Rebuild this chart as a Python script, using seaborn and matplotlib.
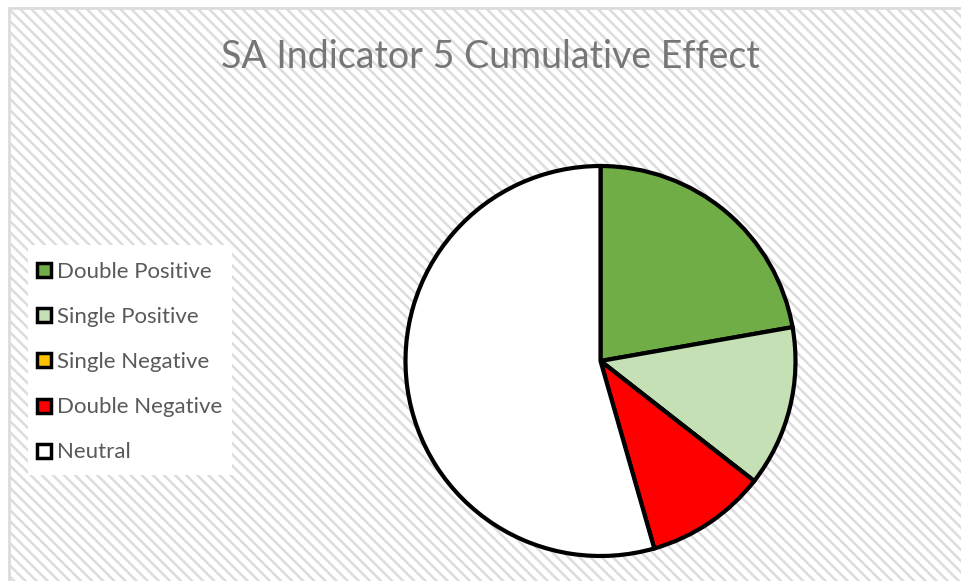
import matplotlib
matplotlib.use("Agg")
import matplotlib.pyplot as plt
import matplotlib.patches as mpatches
from matplotlib.lines import Line2D
import seaborn as sns

categories = ["Double Positive", "Single Positive", "Single Negative", "Double Negative", "Neutral"]
values = [20, 12, 0, 9, 49]
colors = ["#70AD47", "#C5E0B4", "#FFC000", "#FF0000", "#FFFFFF"]
title = "SA Indicator 5 Cumulative Effect"

sns.set_theme(style="white")
plt.rcParams['font.family'] = ['Lato', 'DejaVu Sans']
plt.rcParams['hatch.color'] = "#E9E9E9"
plt.rcParams['hatch.linewidth'] = 1.8

W, H = 962, 581
fig = plt.figure(figsize=(W / 100, H / 100), dpi=100)
fig.patch.set_facecolor("white")

# hatched background with light border
bg_ax = fig.add_axes([0, 0, 1, 1], zorder=-10)
bg_ax.set_xlim(0, W)
bg_ax.set_ylim(H, 0)
bg_ax.axis("off")
bg_ax.add_patch(mpatches.Rectangle((9, 8), W + 10, H + 10, facecolor="white",
                                   edgecolor="#DCDCDC", hatch="\\\\\\",
                                   linewidth=2))
# legend background box
bg_ax.add_patch(mpatches.Rectangle((28, 245), 204, 230, facecolor="white",
                                   edgecolor="none", linewidth=0, zorder=3))

cx, cy, r = 600.5, 361, 195
ax = fig.add_axes([(cx - r) / W, (H - cy - r) / H, 2 * r / W, 2 * r / H], zorder=1)
ax.set_facecolor("none")
ax.pie(values, colors=colors, startangle=90, counterclock=False,
       wedgeprops=dict(edgecolor="black", linewidth=3, joinstyle="miter"),
       radius=1.0)
ax.set_xlim(-1.0, 1.0)
ax.set_ylim(-1.0, 1.0)
ax.set_aspect("auto")
ax.axis("off")

fig.text(490 / W, 1 - 57 / H, title, ha="center", va="center",
         fontsize=27, color="#767676", fontweight="normal", zorder=5)

handles = [Line2D([0], [0], marker="s", linestyle="none", markersize=10.5,
                  markerfacecolor=c, markeredgecolor="black", markeredgewidth=2.5)
           for c in colors]
leg = fig.legend(handles, categories, loc="upper left",
                 bbox_to_anchor=(36 / W, 1 - 262 / H), frameon=False,
                 fontsize=16, labelcolor="#595959",
                 handlelength=0.68, handletextpad=0.25, labelspacing=1.13,
                 borderpad=0, borderaxespad=0)
leg.set_zorder(5)

fig.savefig("out.png", dpi=100, facecolor=fig.get_facecolor())
